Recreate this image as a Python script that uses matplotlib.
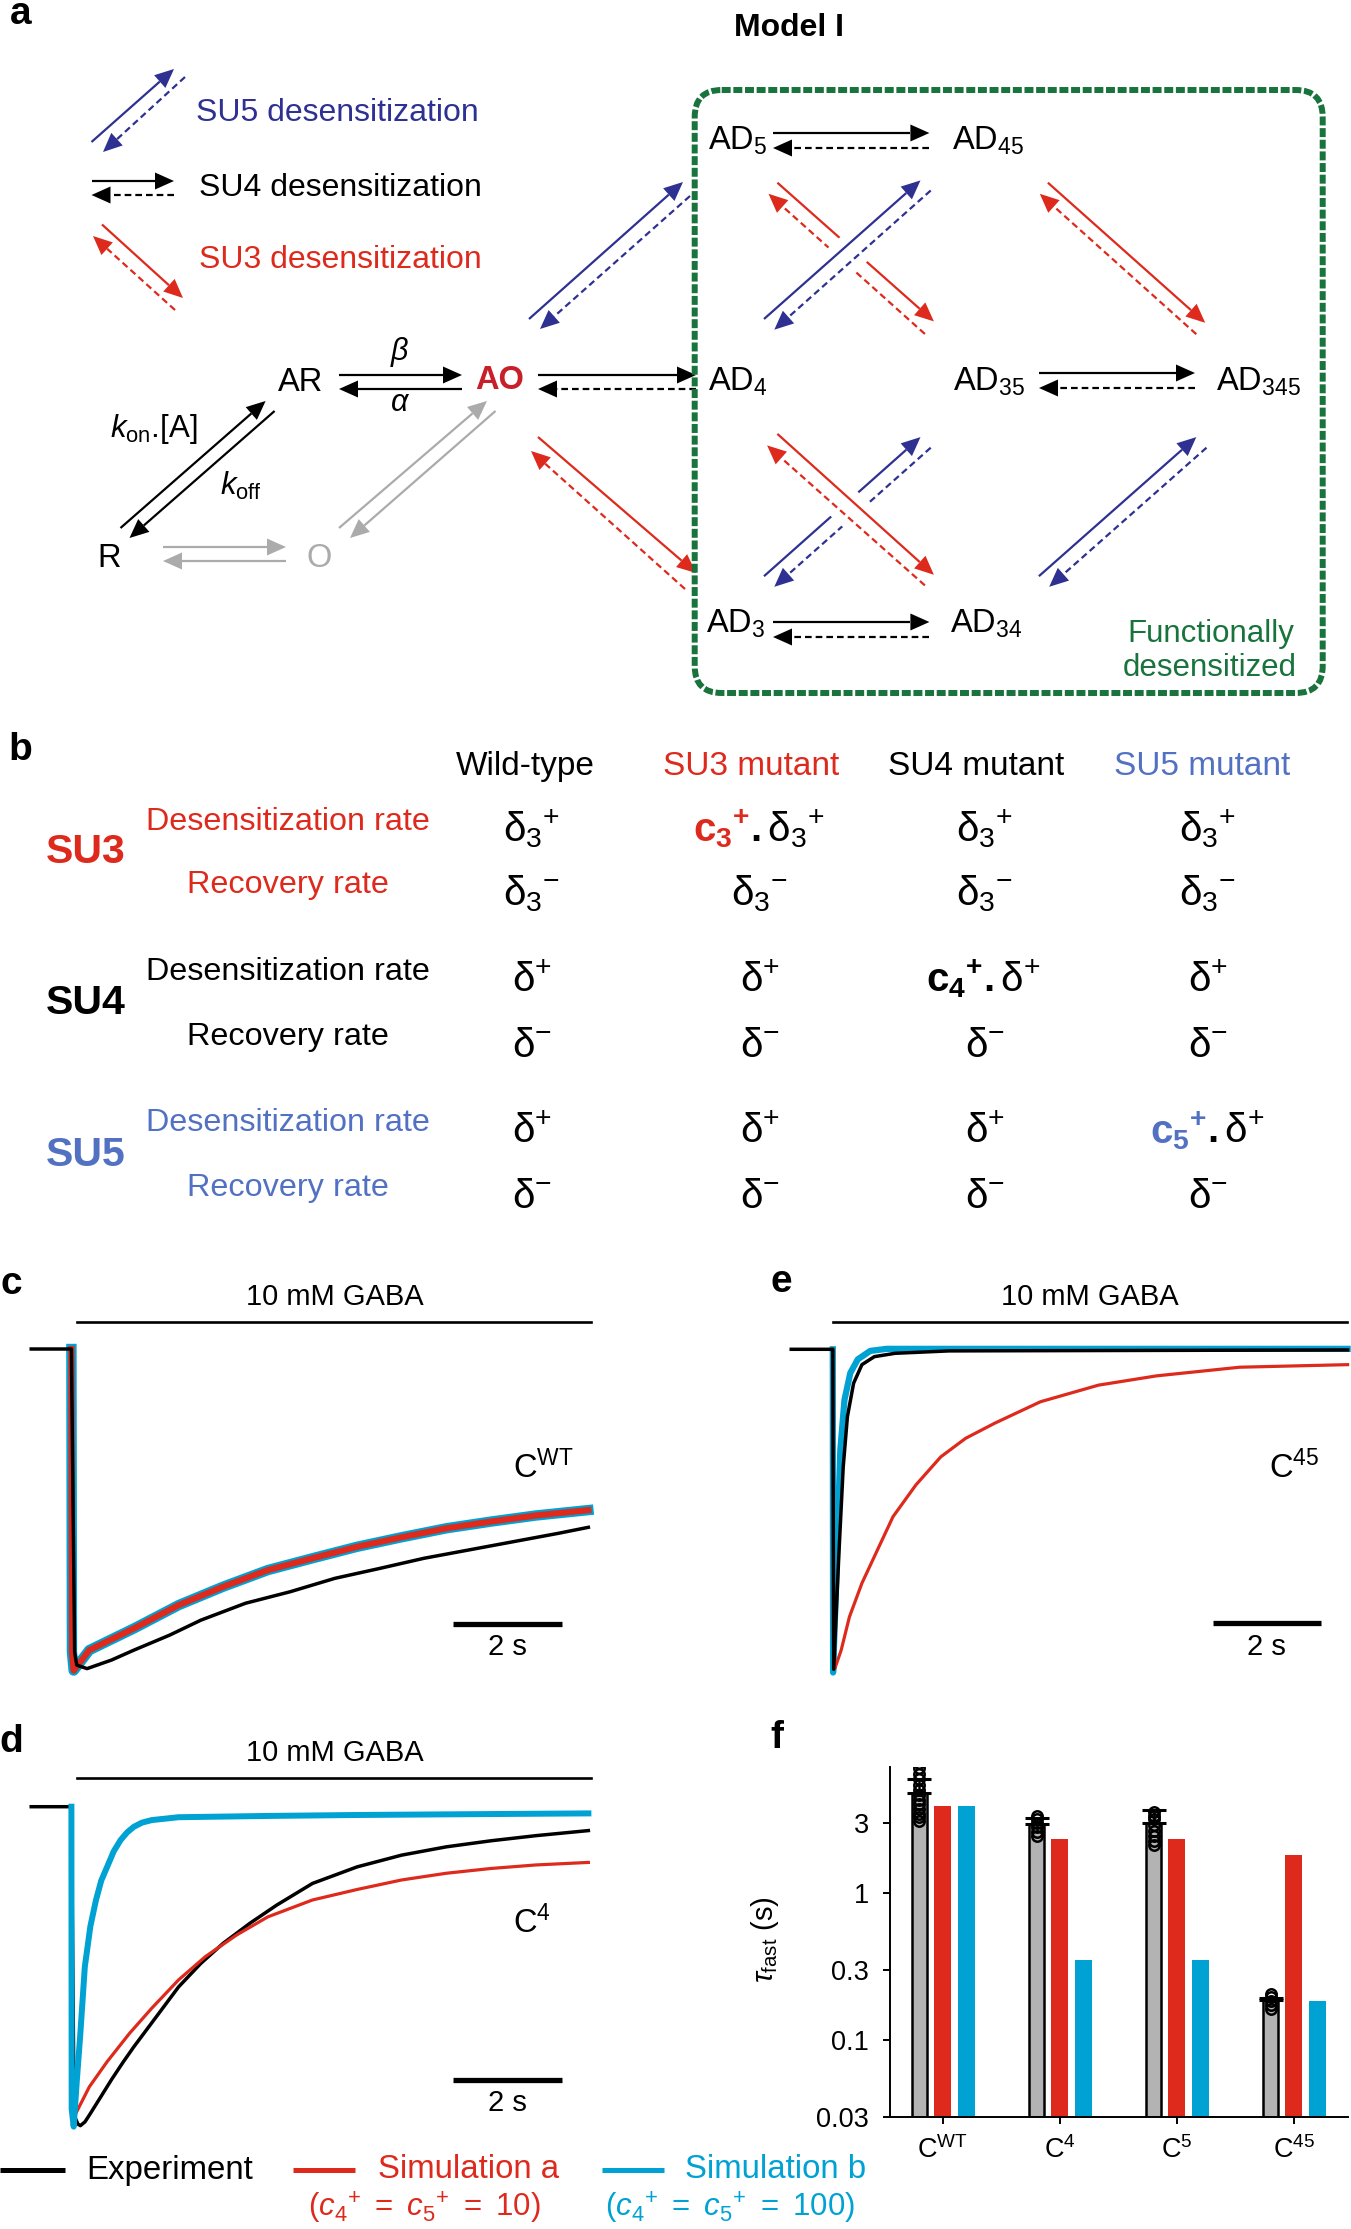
import numpy as np
import matplotlib.pyplot as plt
from matplotlib.patches import Polygon, FancyBboxPatch

plt.rcParams['font.family'] = ['Liberation Sans', 'DejaVu Sans']
plt.rcParams['mathtext.fontset'] = 'custom'
plt.rcParams['mathtext.rm'] = 'Liberation Sans'
plt.rcParams['mathtext.it'] = 'Liberation Sans:italic'
plt.rcParams['mathtext.bf'] = 'Liberation Sans:bold'
plt.rcParams['mathtext.sf'] = 'Liberation Sans'

# ---- data -------------------------------------------------------------
# panel c (C-WT), time in s, current normalised to peak
c_t_exp = [-0.74, 0.0, 0.06, 0.099, 0.288, 0.74, 1.151, 1.809, 2.385, 3.207, 4.029, 4.851,
           5.674, 6.495, 7.318, 8.14, 8.962, 9.521]
c_y_exp = [0, 0, -0.95, -0.991, -1.002, -0.975, -0.944, -0.897, -0.850, -0.797, -0.761,
           -0.719, -0.688, -0.656, -0.630, -0.604, -0.578, -0.559]
c_t_sim = [0.0, 0.01, 0.042, 0.33, 1.151, 1.974, 2.796, 3.618, 4.44, 5.262, 6.085, 6.906,
           7.728, 8.551, 9.521]
c_y_sim = [0, -0.95, -1.008, -0.944, -0.876, -0.803, -0.745, -0.693, -0.656, -0.620,
           -0.590, -0.562, -0.541, -0.522, -0.505]

# panel d (C4)
d_t_exp = [-0.74, 0.0, 0.05, 0.12, 0.165, 0.25, 0.33, 0.55, 0.74, 0.95, 1.151, 1.563, 1.974,
           2.385, 2.796, 3.289, 3.782, 4.44, 5.262, 6.085, 6.906, 7.728, 8.551, 9.521]
d_y_exp = [0, 0, -0.97, -0.997, -1.002, -0.99, -0.969, -0.909, -0.857, -0.803, -0.754, -0.660,
           -0.566, -0.492, -0.429, -0.366, -0.309, -0.241, -0.189, -0.152, -0.126, -0.107,
           -0.091, -0.075]
d_t_a = [0.0, 0.01, 0.083, 0.33, 0.658, 1.07, 1.48, 1.974, 2.467, 3.042, 3.618, 4.44, 5.262,
         6.085, 6.906, 7.728, 8.551, 9.521]
d_y_a = [0, -0.9, -0.963, -0.880, -0.801, -0.712, -0.633, -0.544, -0.471, -0.403, -0.346,
         -0.293, -0.260, -0.230, -0.209, -0.194, -0.183, -0.175]
d_t_b = [0.0, 0.005, 0.042, 0.1, 0.165, 0.247, 0.35, 0.453, 0.55, 0.658, 0.78, 0.905, 1.03,
         1.151, 1.3, 1.48, 1.974, 3.618, 5.262, 6.906, 9.521]
d_y_b = [0, -0.95, -1.005, -0.86, -0.712, -0.503, -0.375, -0.293, -0.232, -0.189, -0.140,
         -0.105, -0.080, -0.063, -0.050, -0.042, -0.033, -0.029, -0.026, -0.024, -0.021]

# panel e (C45)
e_t_exp = [-0.77, 0.0, 0.016, 0.116, 0.193, 0.27, 0.385, 0.539, 0.769, 1.154, 2.154, 9.533]
e_y_exp = [0, 0, -1.0, -0.627, -0.367, -0.211, -0.106, -0.048, -0.023, -0.0125, -0.005, -0.002]
e_t_a = [0.0, 0.01, 0.039, 0.155, 0.308, 0.539, 0.846, 1.115, 1.538, 2.0, 2.461, 2.998,
         3.844, 4.92, 5.996, 7.534, 9.533]
e_y_a = [0, -0.9, -0.997, -0.940, -0.836, -0.731, -0.620, -0.523, -0.424, -0.336, -0.278,
         -0.231, -0.164, -0.112, -0.083, -0.056, -0.048]
e_t_b = [0.0, 0.005, 0.062, 0.139, 0.216, 0.324, 0.462, 0.693, 1.0, 9.533]
e_y_b = [0, -1.01, -0.731, -0.315, -0.158, -0.074, -0.0315, -0.005, 0.0014, 0.0014]

# panel f, tau fast (s)
fast_labels = [r'C$^{\mathrm{WT}}$', r'C$^{4}$', r'C$^{5}$', r'C$^{45}$']
tau_exp = [4.8, 2.94, 2.97, 0.186]
tau_exp_sd = [1.1, 0.30, 0.69, 0.007]
tau_sim_a = [3.91, 2.31, 2.31, 1.81]
tau_sim_b = [3.91, 0.347, 0.347, 0.183]
tau_cells = [[7.6, 7.0, 6.4, 5.9, 5.4, 5.0, 4.6, 4.3, 4.0, 3.7, 3.45, 3.25, 3.1],
             [3.35, 3.15, 3.0, 2.8, 2.6, 2.45],
             [3.55, 3.35, 3.15, 2.9, 2.65, 2.45, 2.25, 2.1],
             [0.205, 0.195, 0.185, 0.172, 0.162]]
f_ticks = [0.03, 0.1, 0.3, 1, 3]

# panel b table
col_names = ['Wild-type', 'SU3 mutant', 'SU4 mutant', 'SU5 mutant']
row_names = ['Desensitization rate', 'Recovery rate'] * 3
group_names = ['SU3', 'SU4', 'SU5']

RED = '#DD2A1D'
CYAN = '#00A1D3'
BLUE = '#2E3192'
LBLUE = '#5271C2'
GREEN = '#18733C'
GREY = '#ABABAB'

W, H = 1351, 2229
fig = plt.figure(figsize=(W / 100, H / 100), dpi=100)
ov = fig.add_axes([0, 0, 1, 1])
ov.set_xlim(0, W)
ov.set_ylim(H, 0)
ov.axis('off')


def px(x0, y0, x1, y1):
    return [x0 / W, 1 - y1 / H, (x1 - x0) / W, (y1 - y0) / H]


def arrow(p0, p1, color, dashed=False, z=3):
    x0, y0 = p0
    x1, y1 = p1
    d = np.hypot(x1 - x0, y1 - y0)
    ux, uy = (x1 - x0) / d, (y1 - y0) / d
    hl, hw = 19, 17
    bx, by = x1 - ux * hl, y1 - uy * hl
    ls = (0, (3.0, 1.8)) if dashed else '-'
    ov.plot([x0, bx], [y0, by], color=color, lw=1.6, ls=ls, solid_capstyle='butt',
            dash_capstyle='butt', zorder=z)
    nx, ny = -uy, ux
    tri = [(x1, y1), (bx + nx * hw / 2, by + ny * hw / 2), (bx - nx * hw / 2, by - ny * hw / 2)]
    ov.add_patch(Polygon(tri, closed=True, facecolor=color, edgecolor='none', zorder=z))


def halo(p0, p1, q0, q1):
    ov.plot([(p0[0] + q1[0]) / 2, (p1[0] + q0[0]) / 2], [(p0[1] + q1[1]) / 2, (p1[1] + q0[1]) / 2],
            color='white', lw=26, solid_capstyle='butt', zorder=2.5)


# ---- panel a ---------------------------------------------------------
ov.text(10, 14, 'a', fontsize=28, fontweight='bold', va='center', ha='left')
ov.text(789, 27.5, 'Model I', fontsize=23, fontweight='bold', va='center', ha='center')

arrow((91.5, 142), (174, 69), BLUE)
arrow((185, 77), (103, 152), BLUE, True)
arrow((91.5, 181), (174, 181), 'k')
arrow((174, 195), (91.5, 195), 'k', True)
arrow((102, 224.5), (183, 298), RED)
arrow((175, 310), (93, 236), RED, True)
ov.text(196, 113, 'SU5 desensitization', color=BLUE, fontsize=23, va='center')
ov.text(199, 188, 'SU4 desensitization', color='k', fontsize=23, va='center')
ov.text(199, 260, 'SU3 desensitization', color=RED, fontsize=23, va='center')

arrow((339, 375), (462, 375), 'k')
arrow((462, 389), (339, 389), 'k')
arrow((120.5, 528), (265.6, 401), 'k')
arrow((274.6, 411), (129.5, 538), 'k')
arrow((163, 547), (286, 547), GREY)
arrow((286, 561), (163, 561), GREY)
arrow((339, 528), (487, 401), GREY)
arrow((495.5, 411), (350, 538), GREY)
arrow((529, 319), (683, 182), BLUE)
arrow((690, 196), (540, 329), BLUE, True)
arrow((538, 375), (696, 375), 'k')
arrow((696, 389), (538, 389), 'k', True)
arrow((538, 437), (696, 573), RED)
arrow((685, 589), (531, 451), RED, True)

arrow((773, 133), (929.4, 133), 'k')
arrow((929.4, 148), (773, 148), 'k', True)
arrow((1039, 373), (1195, 373), 'k')
arrow((1195, 388), (1039, 388), 'k', True)
arrow((773, 622), (929.4, 622), 'k')
arrow((929.4, 637), (773, 637), 'k', True)

# top-left crossing: blue over red
arrow((777.4, 182.7), (933.9, 321.4), RED, z=2)
arrow((924.9, 334), (768.5, 193.8), RED, True, z=2)
halo((764, 319), (920.5, 180.4), (930.7, 190.5), (774.3, 329.7))
arrow((764, 319), (920.5, 180.4), BLUE)
arrow((930.7, 190.5), (774.3, 329.7), BLUE, True)
arrow((1047.9, 182.7), (1205.2, 322.8), RED)
arrow((1196.3, 334.2), (1039.8, 193.8), RED, True)
# bottom-left crossing: red over blue
arrow((764, 576.2), (920.5, 437.1), BLUE, z=2)
arrow((930.7, 447.7), (774.3, 586.8), BLUE, True, z=2)
halo((777.4, 433.9), (933.9, 574.8), (924.9, 585.4), (767.1, 445.4))
arrow((777.4, 433.9), (933.9, 574.8), RED)
arrow((924.9, 585.4), (767.1, 445.4), RED, True)
arrow((1038.9, 576.2), (1196.3, 437.1), BLUE)
arrow((1206.5, 447.7), (1049.2, 586.8), BLUE, True)

st = dict(fontsize=23.5, va='baseline', zorder=5)
ov.text(301, 391, 'AR', ha='center', **st)
ov.text(500, 389, 'AO', ha='center', color='#C8202A', fontweight='bold', **st)
ov.text(109, 567, 'R', ha='center', **st)
ov.text(319, 567, 'O', ha='center', color=GREY, **st)
ov.text(708, 150, r'AD$_5$', ha='left', **st)
ov.text(951.7, 150, r'AD$_{45}$', ha='left', **st)
ov.text(708, 391, r'AD$_4$', ha='left', **st)
ov.text(953, 391, r'AD$_{35}$', ha='left', **st)
ov.text(1215.5, 391, r'AD$_{345}$', ha='left', **st)
ov.text(706, 633, r'AD$_3$', ha='left', **st)
ov.text(949.5, 633, r'AD$_{34}$', ha='left', **st)
ov.text(400, 352, r'$\beta$', fontsize=22, ha='center', va='center')
ov.text(400, 403, r'$\alpha$', fontsize=22, ha='center', va='center')
ov.text(154, 429, r'$k_{\mathrm{on}}$.[A]', fontsize=22.5, ha='center', va='center')
ov.text(241, 486, r'$k_{\mathrm{off}}$', fontsize=22.5, ha='center', va='center')
ov.text(1294, 634, 'Functionally', color=GREEN, fontsize=22.5, ha='right', va='center')
ov.text(1297, 668, 'desensitized', color=GREEN, fontsize=22.5, ha='right', va='center')
ov.add_patch(FancyBboxPatch((694.7, 90), 628, 603,
                            boxstyle='round,pad=0,rounding_size=27', fill=False,
                            edgecolor=GREEN, lw=4.3, ls=(0, (1.5, 0.45)), zorder=4))

# ---- panel b ---------------------------------------------------------
ov.text(8, 750, 'b', fontsize=28, fontweight='bold', va='center', ha='left')
head_x = [525.6, 751.4, 976.3, 1202]
head_c = ['k', RED, 'k', LBLUE]
for name, x, c in zip(col_names, head_x, head_c):
    ov.text(x, 766.7, name, color=c, fontsize=24, ha='center', va='center')
row_y = [821.7, 885, 971.7, 1036.7, 1123, 1188]
row_c = [RED, RED, 'k', 'k', LBLUE, LBLUE]
for name, y, c in zip(row_names, row_y, row_c):
    ov.text(288, y, name, color=c, fontsize=23.3, ha='center', va='center')
for name, y, c in zip(group_names, [851.7, 1003, 1155], [RED, 'k', LBLUE]):
    ov.text(86, y, name, color=c, fontsize=29.5, fontweight='bold', ha='center', va='center')

cell_x = [532, 760, 985, 1208]
d3p = r'\mathrm{\delta}_3{}^{+}'
d3m = r'\mathrm{\delta}_3{}^{-}'
plain = ['$' + d3p + '$', '$' + d3m + '$', r'$\mathrm{\delta}^{+}$', r'$\mathrm{\delta}^{-}$',
         r'$\mathrm{\delta}^{+}$', r'$\mathrm{\delta}^{-}$']
special = {(0, 1): (r'$\mathbf{c_3{}^{+}}$', r'$\mathbf{.}' + d3p + '$', RED, 750),
           (2, 2): (r'$\mathbf{c_4{}^{+}}$', r'$\mathbf{.}\mathrm{\delta}^{+}$', 'k', 983),
           (4, 3): (r'$\mathbf{c_5{}^{+}}$', r'$\mathbf{.}\mathrm{\delta}^{+}$', LBLUE, 1207)}
for i, y in enumerate(row_y):
    for j, x in enumerate(cell_x):
        if (i, j) in special:
            a, b, c, xa = special[(i, j)]
            ov.text(xa, y + 20, a, color=c, fontsize=29, ha='right', va='baseline')
            ov.text(xa, y + 20, b, color='k', fontsize=29, ha='left', va='baseline')
        else:
            ov.text(x, y + 20, plain[i], fontsize=29, ha='center', va='baseline')

# ---- panels c, d, e ----------------------------------------------------
ax_c = fig.add_axes(px(20, 1330, 600, 1690))
ax_c.set_xlim(-0.9466, 9.735)
ax_c.set_ylim(-1.069, 0.0596)
ax_c.plot(c_t_sim, c_y_sim, color=CYAN, lw=7.5, zorder=1)
ax_c.plot(c_t_sim, c_y_sim, color=RED, lw=4.5, zorder=2)
ax_c.plot(c_t_exp, c_y_exp, color='k', lw=2.5, zorder=3)
ax_c.plot([7.03, 9.03], [-0.862, -0.862], color='k', lw=3.8, solid_capstyle='butt')
ax_c.text(8.03, -0.933, '2 s', fontsize=21, ha='center', va='center')

ax_d = fig.add_axes(px(20, 1790, 600, 2140))
ax_d.set_xlim(-0.9466, 9.735)
ax_d.set_ylim(-1.047, 0.0525)
ax_d.plot(d_t_exp, d_y_exp, color='k', lw=2.5, zorder=2)
ax_d.plot(d_t_a, d_y_a, color=RED, lw=2.3, zorder=3)
ax_d.plot(d_t_b, d_y_b, color=CYAN, lw=4.3, zorder=4)
ax_d.plot([7.03, 9.03], [-0.8586, -0.8586], color='k', lw=3.8, solid_capstyle='butt')
ax_d.text(8.03, -0.932, '2 s', fontsize=21, ha='center', va='center')

ax_e = fig.add_axes(px(780, 1330, 1351, 1690))
ax_e.set_xlim(-0.978, 9.596)
ax_e.set_ylim(-1.0647, 0.0603)
ax_e.plot(e_t_b, e_y_b, color=CYAN, lw=4.5, zorder=1)
ax_e.plot(e_t_a, e_y_a, color=RED, lw=2.3, zorder=2)
ax_e.plot(e_t_exp, e_y_exp, color='k', lw=2.5, zorder=3)
ax_e.plot([7.035, 9.033], [-0.855, -0.855], color='k', lw=3.8, solid_capstyle='butt')
ax_e.text(8.03, -0.929, '2 s', fontsize=21, ha='center', va='center')
for ax in (ax_c, ax_d, ax_e):
    ax.axis('off')

for lab, x, y in [('c', 11, 1284), ('d', 11, 1742), ('e', 781, 1282), ('f', 777, 1738)]:
    ov.text(x, y, lab, fontsize=28, fontweight='bold', ha='center', va='center')
for xc, y, x0, x1 in [(335, 1297, 77, 590.6), (1090, 1297, 832.8, 1346.7), (335, 1753.3, 77, 590.6)]:
    ov.text(xc, y, '10 mM GABA', fontsize=21, ha='center', va='center')
    ov.plot([x0, x1], [y + 24.7, y + 24.7], color='k', lw=1.9)
ov.text(513, 1478, r'C$^{\mathrm{WT}}$', fontsize=23.5, ha='left', va='baseline')
ov.text(1269, 1478, r'C$^{45}$', fontsize=23.5, ha='left', va='baseline')
ov.text(513, 1933, r'C$^{4}$', fontsize=23.5, ha='left', va='baseline')

# ---- panel f ---------------------------------------------------------
Y0 = 0.03
ax_f = fig.add_axes(px(890, 1766.7, 1348, 2116.7))
ax_f.set_yscale('log')
xg = np.arange(len(fast_labels))
ax_f.bar(xg - 0.199, np.array(tau_exp) - Y0, bottom=Y0, width=0.124, color='#B3B3B3',
         edgecolor='k', lw=1.8, zorder=2)
ax_f.bar(xg, np.array(tau_sim_a) - Y0, bottom=Y0, width=0.145, color=RED, zorder=2)
ax_f.bar(xg + 0.201, np.array(tau_sim_b) - Y0, bottom=Y0, width=0.142, color=CYAN, zorder=2)
ax_f.errorbar(xg - 0.199, tau_exp, yerr=[np.zeros(4), tau_exp_sd], fmt='none', ecolor='k',
              elinewidth=1.8, capsize=8.6, capthick=2.2, zorder=3)
for i, vals in enumerate(tau_cells):
    ax_f.plot([xg[i] - 0.199] * len(vals), vals, 'o', mfc='none', mec='k', ms=7.5, mew=1.8,
              zorder=4)
ax_f.set_ylim(Y0, 7.2)
ax_f.set_xlim(-0.451, 3.463)
ax_f.set_yticks(f_ticks)
ax_f.set_yticklabels(['0.03', '0.1', '0.3', '1', '3'])
ax_f.minorticks_off()
ax_f.set_xticks(xg)
ax_f.set_xticklabels(fast_labels)
ax_f.tick_params(labelsize=19.5, length=5, width=1.4, direction='out')
ax_f.tick_params(axis='x', pad=9)
ax_f.tick_params(axis='y', pad=10)
for s in ('top', 'right'):
    ax_f.spines[s].set_visible(False)
for s in ('left', 'bottom'):
    ax_f.spines[s].set_linewidth(1.4)
ax_f.patch.set_alpha(0)
ax_f.set_ylabel(r'$\tau_{\mathrm{fast}}$ (s)', fontsize=21)
ax_f.yaxis.set_label_coords(-0.238, 0.505)

# ---- legend ----------------------------------------------------------
for x0, x1, c, lab, xt in [(0, 64.7, 'k', 'Experiment', 86), (293, 355, RED, 'Simulation a', 377.6),
                           (601.7, 663.8, CYAN, 'Simulation b', 685.3)]:
    ov.plot([x0, x1], [2170, 2170], color=c, lw=3.6, solid_capstyle='butt')
    ov.text(xt, 2170, lab, color=c, fontsize=23.8, ha='left', va='center')
ov.text(424.6, 2208, r'$\mathit{(c_4{}^{+}\ =\ c_5{}^{+}\ =\ 10)}$', color=RED, fontsize=22.5,
        ha='center', va='center')
ov.text(730.6, 2208, r'$\mathit{(c_4{}^{+}\ =\ c_5{}^{+}\ =\ 100)}$', color=CYAN, fontsize=22.5,
        ha='center', va='center')

fig.savefig('out.png', dpi=100)
